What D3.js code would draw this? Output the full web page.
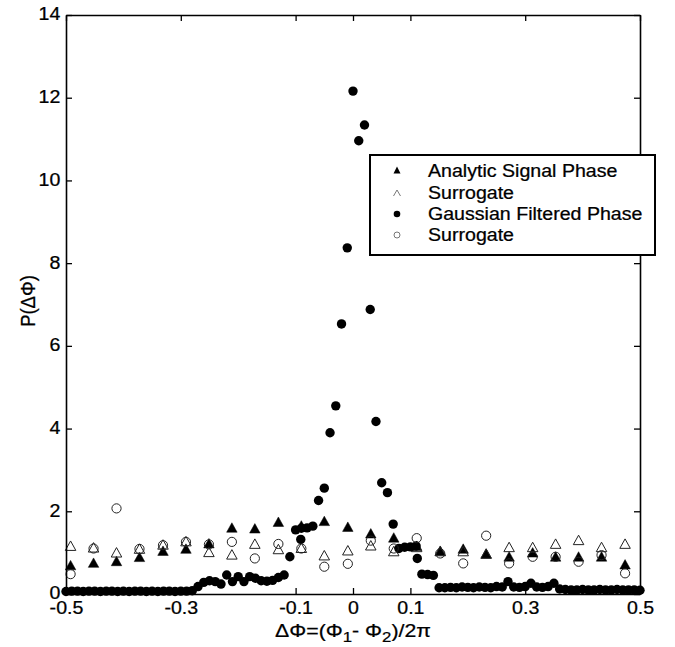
<!DOCTYPE html>
<html><head><meta charset="utf-8">
<script src="https://cdn.jsdelivr.net/npm/d3@7"></script>
<style>body{margin:0;background:#fff}svg{display:block}text{font-family:"Liberation Sans",Arial,sans-serif;fill:#000;stroke:#000;stroke-width:0.25}</style>
</head><body><svg id="c" width="675" height="647"></svg>
<script>
// ---- data ----
const binX = [-0.492,-0.452,-0.412,-0.372,-0.331,-0.291,-0.251,-0.211,-0.171,-0.130,-0.090,-0.050,-0.009,0.031,0.071,0.111,0.152,0.192,0.232,0.272,0.313,0.353,0.393,0.433,0.474];
const analytic = [0.66,0.72,0.76,0.86,1.01,1.06,1.19,1.57,1.55,1.71,1.62,1.73,1.59,1.43,1.33,1.13,1.01,1.06,0.94,0.87,0.97,0.87,0.87,0.87,0.68];
const analyticSurr = [1.13,1.09,0.97,1.06,1.16,1.24,0.98,0.92,1.18,1.05,1.08,0.90,1.02,1.14,1.00,1.10,1.00,1.00,0.94,1.10,1.10,1.18,1.27,1.10,1.18];
const gaussSurr = [0.48,1.10,2.07,1.09,1.18,1.26,1.20,1.26,0.86,1.21,1.10,0.66,0.73,1.29,1.10,1.35,0.98,0.74,1.41,0.74,0.90,0.90,0.78,0.94,0.50];
const gaussX = [-0.50,-0.49,-0.48,-0.47,-0.46,-0.45,-0.44,-0.43,-0.42,-0.41,-0.40,-0.39,-0.38,-0.37,-0.36,-0.35,-0.34,-0.33,-0.32,-0.31,-0.30,-0.29,-0.28,-0.27,-0.26,-0.25,-0.24,-0.23,-0.22,-0.21,-0.20,-0.19,-0.18,-0.17,-0.16,-0.15,-0.14,-0.13,-0.12,-0.11,-0.10,-0.09,-0.091,-0.08,-0.07,-0.06,-0.05,-0.04,-0.03,-0.02,-0.01,0.00,0.01,0.02,0.03,0.04,0.05,0.06,0.07,0.08,0.09,0.10,0.11,0.112,0.12,0.13,0.14,0.15,0.16,0.17,0.18,0.19,0.20,0.21,0.22,0.23,0.24,0.25,0.26,0.27,0.28,0.29,0.30,0.31,0.32,0.33,0.34,0.35,0.36,0.37,0.38,0.39,0.40,0.41,0.42,0.43,0.44,0.45,0.46,0.47,0.48,0.49,0.50];
const gaussY = [0.06,0.07,0.07,0.06,0.07,0.07,0.06,0.07,0.07,0.06,0.07,0.06,0.07,0.07,0.06,0.07,0.06,0.07,0.07,0.06,0.07,0.07,0.08,0.18,0.28,0.32,0.30,0.24,0.46,0.30,0.42,0.30,0.42,0.38,0.32,0.31,0.33,0.40,0.46,0.90,1.55,1.59,1.32,1.60,1.64,2.26,2.56,3.90,4.55,6.53,8.37,12.16,10.96,11.34,6.88,4.17,2.69,2.45,1.69,1.10,1.13,1.14,1.16,0.86,0.48,0.47,0.45,0.15,0.15,0.16,0.15,0.17,0.16,0.15,0.17,0.16,0.15,0.18,0.17,0.30,0.17,0.16,0.18,0.26,0.17,0.16,0.18,0.26,0.12,0.11,0.10,0.10,0.11,0.10,0.10,0.11,0.10,0.10,0.11,0.10,0.10,0.10,0.09];
const xTicks = [-0.5,-0.3,-0.1,0,0.1,0.3,0.5];
const yTicks = [0,2,4,6,8,10,12,14];
const legendLabels = ["Analytic Signal Phase","Surrogate","Gaussian Filtered Phase","Surrogate"];

// ---- chart ----
const svg = d3.select("#c");
const L=66,R=640,T=15,B=594, SX=1.12, FS=17.5;
const x = d3.scaleLinear().domain([-0.5,0.5]).range([L,R]);
const y = d3.scaleLinear().domain([0,14]).range([B,T]);
const fmt = d => d===0 ? "0" : String(d);

function tri(cx,cy,w,filled){
  const h = w*0.9;
  return svg.append("path")
    .attr("d",`M${cx},${cy-h*2/3}L${cx-w/2},${cy+h/3}L${cx+w/2},${cy+h/3}Z`)
    .attr("fill",filled?"#000":"none").attr("stroke",filled?"#000":"#222").attr("stroke-width",filled?0.5:1);
}

// markers
binX.forEach((v,i)=>tri(x(v),y(analytic[i]),10.5,true));
binX.forEach((v,i)=>tri(x(v),y(analyticSurr[i]),10.5,false));
svg.append("g").selectAll("circle").data(gaussX).join("circle")
  .attr("cx",d=>x(d)).attr("cy",(d,i)=>y(gaussY[i])).attr("r",4.7).attr("fill","#000");
svg.append("g").selectAll("circle").data(binX).join("circle")
  .attr("cx",d=>x(d)).attr("cy",(d,i)=>y(gaussSurr[i])).attr("r",4.6).attr("fill","none").attr("stroke","#222").attr("stroke-width",1);

// axes (box)
const ax = svg.append("g").attr("transform",`translate(0,${B})`)
  .call(d3.axisBottom(x).tickValues(xTicks).tickFormat(fmt).tickSizeInner(-6).tickSizeOuter(0).tickPadding(8));
const ay = svg.append("g").attr("transform",`translate(${L},0)`)
  .call(d3.axisLeft(y).tickValues(yTicks).tickFormat(fmt).tickSizeInner(-6).tickSizeOuter(0).tickPadding(6));
svg.append("g").attr("transform",`translate(0,${T})`)
  .call(d3.axisTop(x).tickValues(xTicks).tickFormat("").tickSizeInner(-6).tickSizeOuter(0));
svg.append("g").attr("transform",`translate(${R},0)`)
  .call(d3.axisRight(y).tickValues(yTicks).tickFormat("").tickSizeInner(-6).tickSizeOuter(0));
svg.selectAll(".domain").attr("stroke","#000").attr("stroke-width",1.6);
svg.selectAll(".tick line").attr("stroke","#000").attr("stroke-width",1.3);
svg.selectAll(".tick text").attr("font-size",FS).attr("font-family","Liberation Sans, Arial, sans-serif").attr("transform",`scale(${SX},1)`);
ax.selectAll(".tick text").attr("y",8).attr("dy","0.71em");
ay.selectAll(".tick text").attr("dy","0.28em").attr("x",-5);

// axis titles
const xt = svg.append("text").attr("transform",`translate(353,637) scale(${SX},1)`).attr("text-anchor","middle").attr("font-size",19);
xt.append("tspan").text("ΔΦ=(Φ");
xt.append("tspan").attr("dy",5).attr("font-size",15).text("1");
xt.append("tspan").attr("dy",-5).text("- Φ");
xt.append("tspan").attr("dy",5).attr("font-size",15).text("2");
xt.append("tspan").attr("dy",-5).text(")/2π");
svg.append("text").attr("transform",`translate(35,301) scale(${SX},1) rotate(-90)`).attr("text-anchor","middle").attr("font-size",18.5).text("P(ΔΦ)");

// legend
const lg = svg.append("g");
lg.append("rect").attr("x",370).attr("y",155).attr("width",285).attr("height",100).attr("fill","#fff").attr("stroke","#000").attr("stroke-width",2);
const rows=[171,193,214,235];
rows.forEach((ry,i)=>{
  if(i===0) lg.append("path").attr("d",`M397,${ry-4.5}L393.5,${ry+2.5}L400.5,${ry+2.5}Z`).attr("fill","#000");
  if(i===1) lg.append("path").attr("d",`M393.5,${ry+3}L397,${ry-3}L400.5,${ry+3}`).attr("fill","none").attr("stroke","#555").attr("stroke-width",0.8);
  if(i===2) lg.append("circle").attr("cx",397).attr("cy",ry).attr("r",3.3).attr("fill","#000");
  if(i===3) lg.append("circle").attr("cx",397).attr("cy",ry).attr("r",3).attr("fill","none").attr("stroke","#555").attr("stroke-width",0.8);
  lg.append("text").attr("transform",`translate(428,${ry+6}) scale(${SX},1)`).attr("font-size",FS).text(legendLabels[i]);
});
</script></body></html>
